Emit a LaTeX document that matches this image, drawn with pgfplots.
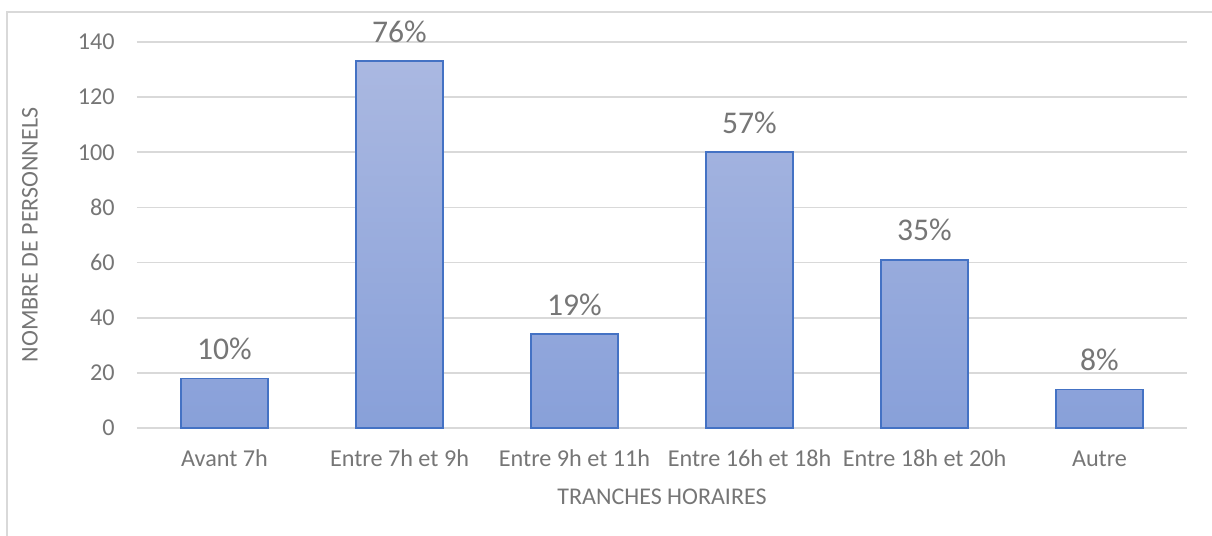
\documentclass[border=0pt]{standalone}
\usepackage{fontspec}
\setmainfont{Carlito}
\usepackage{pgfplots}
\pgfplotsset{compat=1.18}
\definecolor{txt}{RGB}{118,118,118}
\definecolor{gridc}{RGB}{217,217,217}
\definecolor{bartop}{RGB}{170,184,225}
\definecolor{barbot}{RGB}{136,160,217}
\definecolor{barline}{RGB}{68,114,196}
\begin{document}
\begin{tikzpicture}[x=1pt,y=1pt]
\useasboundingbox (-68.5,-54) rectangle (537.5,214);
\draw[gridc, line width=0.8pt] (-65,-60) -- (-65,208) -- (545,208);
\begin{axis}[
  at={(0,0)}, anchor=south west,
  scale only axis, width=525pt, height=193pt,
  xmin=-0.5, xmax=5.5, ymin=0, ymax=140,
  ytick={0,20,...,140},
  xtick={0,...,5},
  xticklabels={Avant 7h, Entre 7h et 9h, Entre 9h et 11h, Entre 16h et 18h, Entre 18h et 20h, Autre},
  major tick length=0pt,
  axis x line*=bottom, axis y line*=left,
  x axis line style={gridc, line width=0.8pt, -},
  y axis line style={draw=none},
  ymajorgrids, grid style={gridc, line width=0.8pt},
  /pgf/number format/assume math mode=true,
  tick label style={text=txt, font=\fontsize{12.1}{14}\selectfont, inner sep=0pt},
  yticklabel style={anchor=east, xshift=-11pt},
  xticklabel style={anchor=base, yshift=-19.5pt},
  xlabel={TRANCHES HORAIRES},
  ylabel={NOMBRE DE PERSONNELS},
  label style={text=txt, font=\fontsize{12}{14}\selectfont, inner sep=0pt},
  xlabel style={at={(axis description cs:0.5,0)}, anchor=base, yshift=-38pt},
  ylabel style={at={(axis description cs:-0.1019,0.5)}, anchor=center},
  ybar, bar width=0.5, bar shift=0pt,
  point meta=explicit symbolic,
  nodes near coords,
  nodes near coords style={text=txt, font=\fontsize{15.8}{18}\selectfont, inner sep=0pt, anchor=south, yshift=9pt},
]
\addplot[draw=barline, line width=0.8pt, top color=bartop, bottom color=barbot]
coordinates {
(0,18) [10\%]
(1,133) [76\%]
(2,34) [19\%]
(3,100) [57\%]
(4,61) [35\%]
(5,14) [8\%]
};
\end{axis}
\end{tikzpicture}
\end{document}
